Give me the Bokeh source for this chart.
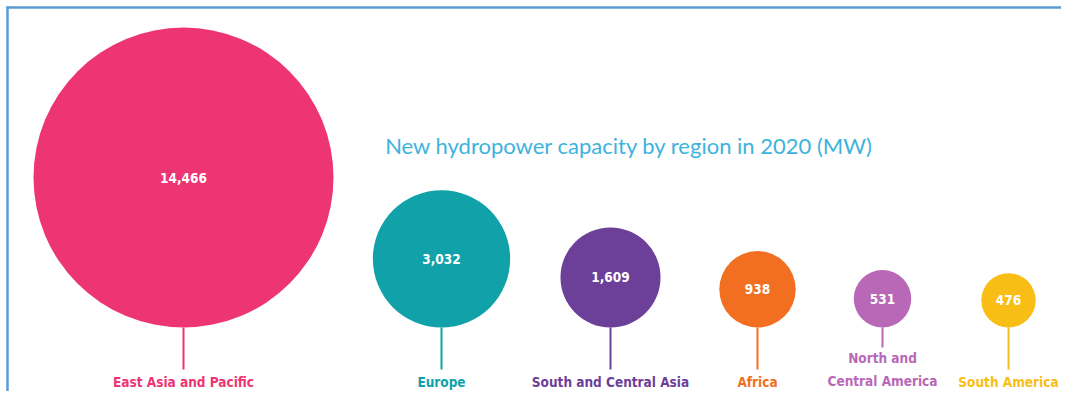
from bokeh.plotting import figure
from bokeh.models import Range1d, ColumnDataSource
from bokeh.core.properties import value
from bokeh.embed import file_html
from bokeh.resources import INLINE
import math

# ---- data ----
regions = ["East Asia and Pacific", "Europe", "South and Central Asia", "Africa",
           "North and\nCentral America", "South America"]
capacity_mw = [14466, 3032, 1609, 938, 531, 476]
value_labels = ["14,466", "3,032", "1,609", "938", "531", "476"]
colors = ["#ee3573", "#10a2a8", "#6c3f98", "#f26f22", "#b868b6", "#f8be15"]
title_text = "New hydropower capacity by region in 2020 (MW)"

# ---- layout (pixel coordinates) ----
x_pos = [183, 441, 610, 757, 882, 1008]
stem_end = [369, 369, 369, 369, 347, 369]
label_y = [381, 381, 381, 381, 369, 381]
bubble_bottom = 327
max_r = 150.0

radii = [max_r * math.sqrt(v / max(capacity_mw)) for v in capacity_mw]
cy = [bubble_bottom - r for r in radii]

W, H = 1061, 391
p = figure(width=W, height=H, output_backend="svg", toolbar_location=None,
           x_range=Range1d(0, W), y_range=Range1d(H, 0),
           min_border=0, background_fill_color="white", border_fill_color="white")
p.axis.visible = False
p.grid.visible = False
p.outline_line_color = None

src = ColumnDataSource(dict(x=x_pos, y=cy, r=radii, c=colors, lab=value_labels,
                            reg=regions, ys=[bubble_bottom] * len(x_pos),
                            ye=stem_end, ly=label_y))

# border lines (top and left)
p.segment(x0=[6, 7], y0=[7, 6], x1=[W, 7], y1=[7, H], line_color="#5b9bd5", line_width=2.5)

# stems
p.segment(x0="x", y0="ys", x1="x", y1="ye", line_color="c", line_width=2, source=src)

# bubbles
p.circle(x="x", y="y", radius="r", radius_units="screen", fill_color="c",
         line_color=None, source=src)

# values
p.text(x="x", y="y", text="lab", text_color="white", text_align="center",
       text_baseline="middle", text_font_size="13.5px", text_font_style="bold",
       text_font=value("'Liberation Sans Narrow', 'DejaVu Sans Condensed', sans-serif"),
       source=src)

# region labels
p.text(x="x", y="ly", text="reg", text_color="c", text_align="center",
       text_baseline="middle", text_font_size="13.5px", text_font_style="bold",
       text_line_height=1.45,
       text_font=value("'Liberation Sans Narrow', 'DejaVu Sans Condensed', sans-serif"),
       source=src)

# title
p.text(x=[629], y=[145], text=[title_text], text_color="#3db3dc", text_align="center",
       text_baseline="middle", text_font_size="22px", text_font=value("Lato"))

open("out.html", "w").write(file_html(p, INLINE))
